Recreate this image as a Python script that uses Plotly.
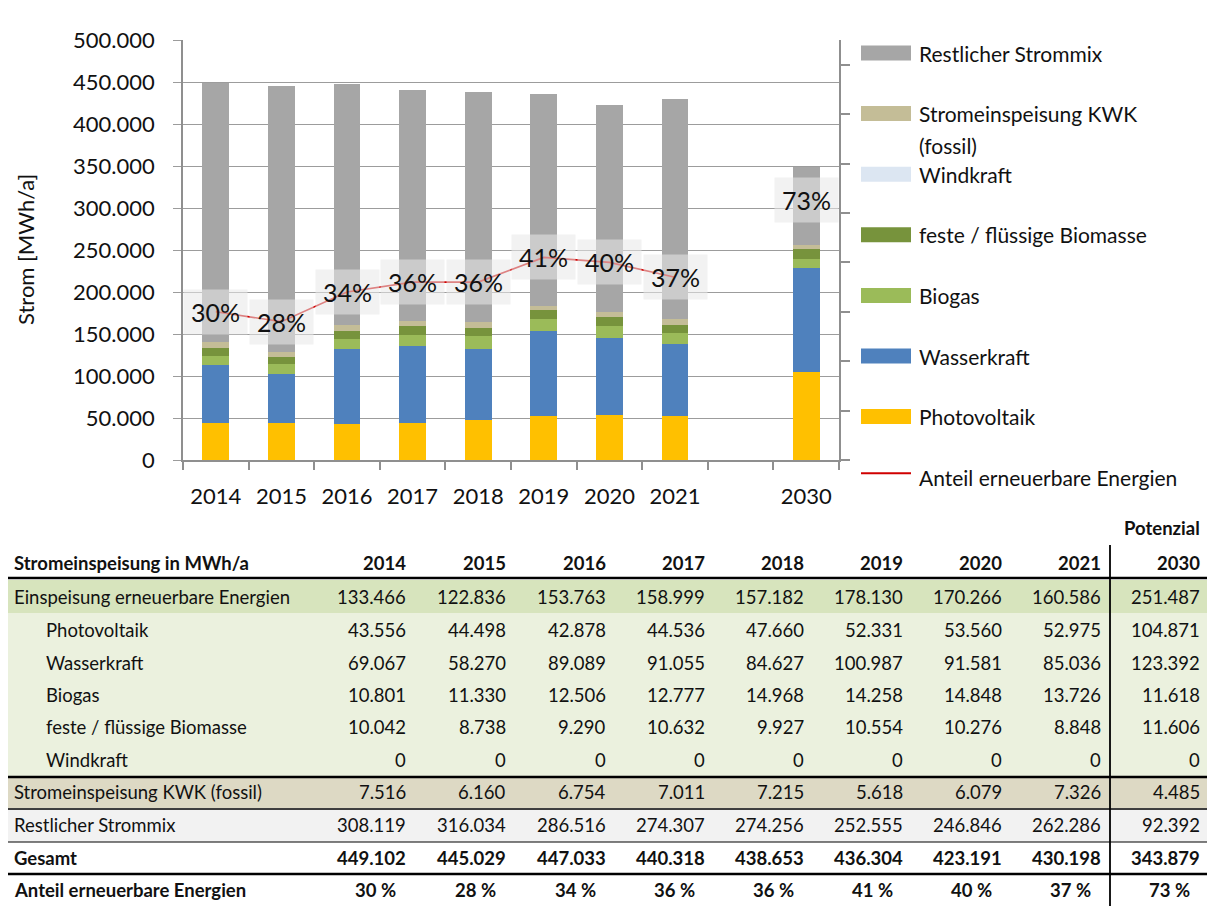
import plotly.graph_objects as go

# ---------------- data ----------------
years = ["2014", "2015", "2016", "2017", "2018", "2019", "2020", "2021", "2030"]
axis_categories = ["2014", "2015", "2016", "2017", "2018", "2019", "2020", "2021", "", "2030"]

photovoltaik = [43556, 44498, 42878, 44536, 47660, 52331, 53560, 52975, 104871]
wasserkraft = [69067, 58270, 89089, 91055, 84627, 100987, 91581, 85036, 123392]
biogas = [10801, 11330, 12506, 12777, 14968, 14258, 14848, 13726, 11618]
biomasse = [10042, 8738, 9290, 10632, 9927, 10554, 10276, 8848, 11606]
windkraft = [0, 0, 0, 0, 0, 0, 0, 0, 0]
kwk_fossil = [7516, 6160, 6754, 7011, 7215, 5618, 6079, 7326, 4485]
restlicher = [308119, 316034, 286516, 274307, 274256, 252555, 246846, 262286, 92392]
erneuerbar = [133466, 122836, 153763, 158999, 157182, 178130, 170266, 160586, 251487]
gesamt = [449102, 445029, 447033, 440318, 438653, 436304, 423191, 430198, 343879]
anteil = [30, 28, 34, 36, 36, 41, 40, 37, 73]
n_hist = 8  # years with measured values (line drawn)

# ---------------- layout constants (screen pixels) ----------------
OFF = 8                      # browser body margin
W, H = 1215 - OFF, 909 - OFF  # figure size
PL, PR, PT, PB = 183, 839, 40, 460   # plot area in screen pixels
FONT = "Lato, 'Open Sans', sans-serif"
TXT = "#111111"
AXC = "#8f8f8f"


def xp(px):
    return (px - PL) / (PR - PL)


def yp(py):
    return (PB - py) / (PB - PT)


pos = [axis_categories.index(y) for y in years]

series = [
    ("Photovoltaik", photovoltaik, "#FFC000"),
    ("Wasserkraft", wasserkraft, "#4F81BD"),
    ("Biogas", biogas, "#9BBB59"),
    ("feste / flüssige Biomasse", biomasse, "#77933C"),
    ("Windkraft", windkraft, "#DCE6F2"),
    ("Stromeinspeisung KWK (fossil)", kwk_fossil, "#C4BD97"),
    ("Restlicher Strommix", restlicher, "#A6A6A6"),
]
LINE_COLOR = "#D00000"

fig = go.Figure()
for name, vals, col in series:
    fig.add_trace(go.Bar(x=pos, y=vals, name=name, showlegend=False,
                         marker=dict(color=col, line=dict(width=0))))

fig.add_trace(go.Scatter(x=pos[:n_hist], y=anteil[:n_hist], yaxis="y2", mode="lines",
                         name="Anteil erneuerbare Energien", showlegend=False,
                         line=dict(color=LINE_COLOR, width=1.6)))

annotations = []
shapes = []

# percentage labels
for i, (p, a) in enumerate(zip(pos, anteil)):
    annotations.append(dict(
        x=p, y=a, xref="x", yref="y2", text=f"{a}%", showarrow=False,
        font=dict(size=25, color=TXT, family=FONT),
        bgcolor="rgba(232,232,232,0.56)", borderpad=7,
        yshift=0 if i < n_hist else -101))

# y axis title
annotations.append(dict(x=xp(25), y=yp(250), xref="paper", yref="paper",
                        text="Strom [MWh/a]", textangle=-90, showarrow=False,
                        xanchor="center", yanchor="middle",
                        font=dict(size=22, color=TXT, family=FONT)))

# manual legend (top to bottom)
legend_items = [
    ("Restlicher Strommix", "#A6A6A6", "bar"),
    ("Stromeinspeisung KWK<br>(fossil)", "#C4BD97", "bar"),
    ("Windkraft", "#DCE6F2", "bar"),
    ("feste / flüssige Biomasse", "#77933C", "bar"),
    ("Biogas", "#9BBB59", "bar"),
    ("Wasserkraft", "#4F81BD", "bar"),
    ("Photovoltaik", "#FFC000", "bar"),
    ("Anteil erneuerbare Energien", LINE_COLOR, "line"),
]
leg_y0, leg_dy = 53, 60.6
for k, (label, col, kind) in enumerate(legend_items):
    cy = leg_y0 + k * leg_dy
    if kind == "bar":
        shapes.append(dict(type="rect", xref="paper", yref="paper",
                           x0=xp(861), x1=xp(911), y0=yp(cy - 7.5), y1=yp(cy + 7.5),
                           fillcolor=col, line=dict(width=0)))
    else:
        shapes.append(dict(type="line", xref="paper", yref="paper",
                           x0=xp(861), x1=xp(911), y0=yp(cy - 4), y1=yp(cy - 4),
                           line=dict(color=col, width=2)))
    parts = label.split("<br>")
    for j, part in enumerate(parts):
        annotations.append(dict(x=xp(917), y=yp(cy + j * 32), xref="paper", yref="paper",
                                text=part, showarrow=False, xanchor="left", yanchor="middle",
                                font=dict(size=21, color=TXT, family=FONT)))

# ---------------- table ----------------
col_right = [408, 508, 608, 707, 806, 905, 1004, 1103, 1202]
TX0, TX1 = 8, 1207
TFS = 18.5


def fmt(v):
    return f"{v:,}".replace(",", ".")


# backgrounds
shapes += [
    dict(type="rect", xref="paper", yref="paper", x0=xp(TX0), x1=xp(TX1), y0=yp(580), y1=yp(613),
         fillcolor="#D7E4BD", line=dict(width=0), layer="below"),
    dict(type="rect", xref="paper", yref="paper", x0=xp(TX0), x1=xp(TX1), y0=yp(613), y1=yp(776),
         fillcolor="#EBF1DE", line=dict(width=0), layer="below"),
    dict(type="rect", xref="paper", yref="paper", x0=xp(TX0), x1=xp(TX1), y0=yp(777), y1=yp(808),
         fillcolor="#DDD9C4", line=dict(width=0), layer="below"),
    dict(type="rect", xref="paper", yref="paper", x0=xp(TX0), x1=xp(TX1), y0=yp(809), y1=yp(842),
         fillcolor="#F2F2F2", line=dict(width=0), layer="below"),
]
for yy, wdt in [(578, 2.5), (777, 2.5), (809, 1.5), (842, 1.2), (874, 2.5)]:
    shapes.append(dict(type="line", xref="paper", yref="paper", x0=xp(TX0), x1=xp(TX1),
                       y0=yp(yy), y1=yp(yy), line=dict(color="#000000", width=wdt)))
shapes.append(dict(type="line", xref="paper", yref="paper", x0=xp(1110), x1=xp(1110),
                   y0=yp(545), y1=yp(906), line=dict(color="#000000", width=1.8)))


def tcell(px, py, text, anchor="right", bold=False):
    annotations.append(dict(x=xp(px), y=yp(py), xref="paper", yref="paper",
                            text=f"<b>{text}</b>" if bold else text, showarrow=False,
                            xanchor=anchor, yanchor="middle",
                            font=dict(size=TFS, color=TXT, family=FONT)))


tcell(1202, 528, "Potenzial", bold=True)
tcell(12, 563, "Stromeinspeisung in MWh/a", anchor="left", bold=True)
for c, y in zip(col_right, years):
    tcell(c, 563, y, bold=True)

table_rows = [
    ("Einspeisung erneuerbare Energien", erneuerbar, 12, False, False),
    ("Photovoltaik", photovoltaik, 44, False, False),
    ("Wasserkraft", wasserkraft, 44, False, False),
    ("Biogas", biogas, 44, False, False),
    ("feste / flüssige Biomasse", biomasse, 44, False, False),
    ("Windkraft", windkraft, 44, False, False),
    ("Stromeinspeisung KWK (fossil)", kwk_fossil, 12, False, False),
    ("Restlicher Strommix", restlicher, 12, False, False),
    ("Gesamt", gesamt, 12, True, False),
    ("Anteil erneuerbare Energien", anteil, 12, True, True),
]
row_y = [597, 630, 663, 695, 727, 760, 792, 825, 858, 890]
for (label, vals, indent, bold, pct), ry in zip(table_rows, row_y):
    tcell(indent, ry, label, anchor="left", bold=bold)
    for c, v in zip(col_right, vals):
        txt = f"{v} %" if pct else fmt(v)
        tcell(c - (10 if pct else 0), ry, txt, bold=bold)

fig.update_layout(
    width=W, height=H,
    margin=dict(l=PL - OFF, r=W - (PR - OFF), t=PT - OFF, b=H - (PB - OFF), pad=0),
    barmode="stack", bargap=0.59,
    plot_bgcolor="white", paper_bgcolor="white",
    separators=",.",
    font=dict(family=FONT, color=TXT),
    showlegend=False,
    xaxis=dict(range=[-0.5, len(axis_categories) - 0.5],
               tickmode="array", tickvals=pos, ticktext=years, ticks="",
               showgrid=False, zeroline=False, showline=True, linecolor=AXC, linewidth=1.5,
               tickfont=dict(size=22, color=TXT), ticklabelstandoff=16,
               minor=dict(tickmode="array",
                          tickvals=[i - 0.5 for i in range(len(axis_categories) + 1)],
                          ticks="outside", ticklen=8, tickcolor=AXC, tickwidth=1.5, showgrid=False)),
    yaxis=dict(range=[0, 500000], dtick=50000, tickformat=",d",
               showgrid=True, gridcolor="#9c9c9c", gridwidth=1.2,
               ticks="outside", ticklen=8, tickcolor="#9c9c9c", tickwidth=1.2,
               showline=True, linecolor=AXC, linewidth=1.5, zeroline=False,
               tickfont=dict(size=22, color=TXT), ticklabelstandoff=14),
    yaxis2=dict(overlaying="y", side="right", range=[0, 85], dtick=10,
                showgrid=False, showticklabels=False, zeroline=False,
                ticks="outside", ticklen=9, tickcolor=AXC, tickwidth=1.5,
                showline=True, linecolor=AXC, linewidth=1.5),
    annotations=annotations,
    shapes=shapes,
)

fig.write_html("out.html")
